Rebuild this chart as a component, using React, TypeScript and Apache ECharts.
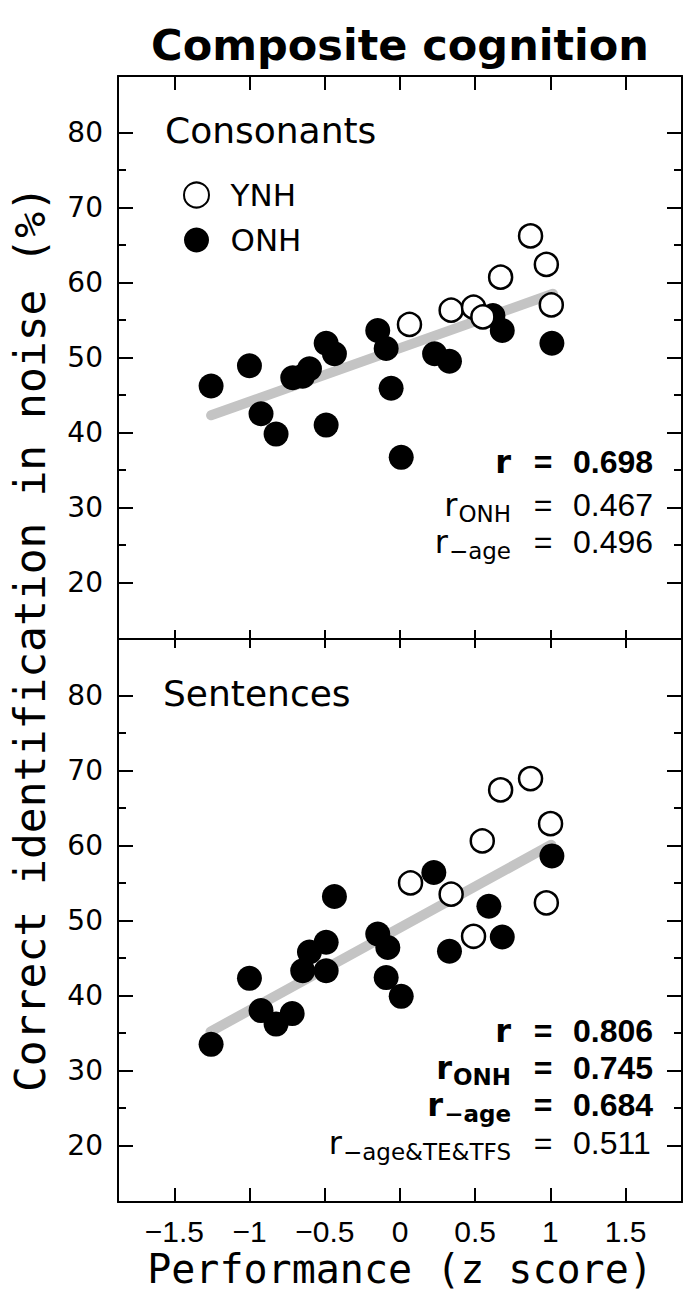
import React, { useEffect, useRef } from 'react';
import * as echarts from 'echarts';

// ---------- data ----------
const X_TICKS = [-1.5, -1, -0.5, 0, 0.5, 1, 1.5];
const Y_MAJOR = [20, 30, 40, 50, 60, 70, 80];
const Y_MINOR = [25, 35, 45, 55, 65, 75];
const X_MIN = -1.875;
const X_MAX = 1.875;
const Y_MIN = 12.5;
const Y_MAX = 87.5;

const PANEL_NAMES = ['Consonants', 'Sentences'];
const GROUP_NAMES = ['YNH', 'ONH'];

const consonantsONH: [number, number][] = [
  [-1.256, 46.2], [-1.001, 48.9], [-0.924, 42.5], [-0.824, 39.8],
  [-0.713, 47.3], [-0.647, 47.5], [-0.602, 48.5], [-0.491, 51.9],
  [-0.436, 50.5], [-0.491, 41.0], [-0.148, 53.6], [-0.092, 51.2],
  [-0.059, 45.9], [0.008, 36.7], [0.23, 50.5], [0.329, 49.5],
  [0.618, 55.6], [0.68, 53.6], [1.01, 51.9],
];
const consonantsYNH: [number, number][] = [
  [0.063, 54.4], [0.34, 56.3], [0.489, 56.7], [0.551, 55.4],
  [0.669, 60.7], [0.868, 66.2], [0.973, 62.4], [1.006, 57.0],
];
const consonantsFit: [number, number][] = [[-1.256, 42.3], [1.017, 58.5]];

const sentencesONH: [number, number][] = [
  [-1.256, 33.5], [-1.001, 42.3], [-0.924, 38.0], [-0.824, 36.2],
  [-0.717, 37.6], [-0.647, 43.3], [-0.602, 45.8], [-0.491, 47.1],
  [-0.491, 43.3], [-0.436, 53.2], [-0.148, 48.2], [-0.081, 46.4],
  [-0.092, 42.4], [0.008, 39.9], [0.225, 56.4], [0.329, 45.9],
  [0.591, 51.9], [0.68, 47.8], [1.01, 58.6],
];
const sentencesYNH: [number, number][] = [
  [0.07, 55.0], [0.34, 53.5], [0.489, 47.9], [0.547, 60.6],
  [0.669, 67.4], [0.868, 68.9], [1.001, 62.9], [0.973, 52.35],
];
const sentencesFit: [number, number][] = [[-1.26, 35.2], [1.006, 60.1]];

type Stat = { sub: string; value: string; bold: boolean };
const consonantsStats: Stat[] = [
  { sub: '', value: '0.698', bold: true },
  { sub: 'ONH', value: '0.467', bold: false },
  { sub: '\u2212age', value: '0.496', bold: false },
];
const sentencesStats: Stat[] = [
  { sub: '', value: '0.806', bold: true },
  { sub: 'ONH', value: '0.745', bold: true },
  { sub: '\u2212age', value: '0.684', bold: true },
  { sub: '\u2212age&TE&TFS', value: '0.511', bold: false },
];

// ---------- layout ----------
const W = 687;
const H = 1299;
const PLOT_LEFT = 118;
const PLOT_W = 564;
const PANEL_TOPS = [76, 639];
const PANEL_H = 563;
const STAT_Y = [[462, 505, 542], [1031, 1068, 1105, 1143]];

const MONO = '"DejaVu Sans Mono", monospace';
const SANS = '"DejaVu Sans", sans-serif';
const LIB = '"Liberation Sans", Arial, sans-serif';
const NARROW = '"Liberation Sans Narrow", "Liberation Sans", sans-serif';

function measure(text: string, font: string): number {
  const c = document.createElement('canvas').getContext('2d');
  if (!c) return text.length * 12;
  c.font = font;
  return c.measureText(text).width;
}

const fmtX = (v: number) => (v < 0 ? '\u2212' + String(Math.abs(v)) : String(v));

function buildOption() {
  const lineStyle = { color: '#000', width: 2 };
  const xAxis: any[] = [];
  const yAxis: any[] = [];
  const grid: any[] = [];
  const series: any[] = [];
  const graphic: any[] = [];

  const panels = [
    { onh: consonantsONH, ynh: consonantsYNH, fit: consonantsFit, stats: consonantsStats },
    { onh: sentencesONH, ynh: sentencesYNH, fit: sentencesFit, stats: sentencesStats },
  ];

  panels.forEach((p, g) => {
    grid.push({ left: PLOT_LEFT, top: PANEL_TOPS[g], width: PLOT_W, height: PANEL_H });
    const isBottom = g === 1;
    const xBase = {
      type: 'value', gridIndex: g, min: X_MIN, max: X_MAX,
      splitLine: { show: false },
      axisLine: { show: true, onZero: false, lineStyle },
    };
    xAxis.push({
      ...xBase, position: 'bottom',
      axisTick: { show: true, inside: true, length: isBottom ? 14 : 9, lineStyle, customValues: X_TICKS },
      axisLabel: isBottom
        ? { show: true, customValues: X_TICKS, formatter: fmtX, color: '#000', fontFamily: NARROW, fontSize: 30, margin: 14 }
        : { show: false },
    });
    xAxis.push({
      ...xBase, position: 'top',
      axisTick: { show: true, inside: true, length: isBottom ? 9 : 14, lineStyle, customValues: X_TICKS },
      axisLabel: { show: false },
    });
    const yBase = {
      type: 'value', gridIndex: g, min: Y_MIN, max: Y_MAX,
      splitLine: { show: false },
    };
    yAxis.push({
      ...yBase, position: 'left',
      axisLine: { show: true, onZero: false, lineStyle },
      axisTick: { show: true, inside: true, length: 15, lineStyle, customValues: Y_MAJOR },
      axisLabel: { show: true, customValues: Y_MAJOR, color: '#000', fontFamily: SANS, fontSize: 28, margin: 15 },
    });
    yAxis.push({
      ...yBase, position: 'left',
      axisLine: { show: false, onZero: false },
      axisTick: { show: true, inside: true, length: 8, lineStyle, customValues: Y_MINOR },
      axisLabel: { show: false },
    });
    yAxis.push({
      ...yBase, position: 'right',
      axisLine: { show: true, onZero: false, lineStyle },
      axisTick: { show: true, inside: true, length: 15, lineStyle, customValues: Y_MAJOR },
      axisLabel: { show: false },
    });
    yAxis.push({
      ...yBase, position: 'right',
      axisLine: { show: false, onZero: false },
      axisTick: { show: true, inside: true, length: 8, lineStyle, customValues: Y_MINOR },
      axisLabel: { show: false },
    });

    const xi = g * 2;
    const yi = g * 4;
    series.push({
      type: 'line', name: 'fit', xAxisIndex: xi, yAxisIndex: yi, data: p.fit,
      symbol: 'none', showSymbol: false, silent: true, z: 1,
      lineStyle: { color: '#c4c4c4', width: 10, cap: 'round' },
    });
    series.push({
      type: 'scatter', name: GROUP_NAMES[1], xAxisIndex: xi, yAxisIndex: yi, data: p.onh,
      symbol: 'circle', symbolSize: 25, silent: true, z: 2,
      itemStyle: { color: '#000', opacity: 1 },
    });
    series.push({
      type: 'scatter', name: GROUP_NAMES[0], xAxisIndex: xi, yAxisIndex: yi, data: p.ynh,
      symbol: 'circle', symbolSize: 23, silent: true, z: 3,
      itemStyle: { color: '#fff', borderColor: '#000', borderWidth: 2.5, opacity: 1 },
    });

    // stats annotations
    p.stats.forEach((s, i) => {
      const yc = STAT_Y[g][i];
      const fw = s.bold ? 'bold' : 'normal';
      const subFont = `${s.bold ? 'bold ' : ''}23px "DejaVu Sans"`;
      const subW = s.sub ? measure(s.sub, subFont) : 0;
      const labelRight = 511;
      if (s.sub) {
        graphic.push({
          type: 'text', x: labelRight, y: yc + 9,
          style: { text: s.sub, fill: '#000', fontFamily: SANS, fontSize: 23, fontWeight: fw, align: 'right', verticalAlign: 'middle' },
        });
      }
      graphic.push({
        type: 'text', x: labelRight - subW - (s.sub ? 1 : 0), y: yc,
        style: { text: 'r', fill: '#000', fontFamily: SANS, fontSize: 32, fontWeight: fw, align: 'right', verticalAlign: 'middle' },
      });
      graphic.push({
        type: 'text', x: 543, y: yc,
        style: { text: '=', fill: '#000', fontFamily: LIB, fontSize: 32, fontWeight: fw, align: 'center', verticalAlign: 'middle' },
      });
      graphic.push({
        type: 'text', x: 573, y: yc,
        style: { text: s.value, fill: '#000', fontFamily: LIB, fontSize: 32, fontWeight: fw, align: 'left', verticalAlign: 'middle' },
      });
    });
  });

  // panel labels
  graphic.push({
    type: 'text', x: 165, y: 130,
    style: { text: PANEL_NAMES[0], fill: '#000', fontFamily: SANS, fontSize: 36, align: 'left', verticalAlign: 'middle' },
  });
  graphic.push({
    type: 'text', x: 163, y: 693,
    style: { text: PANEL_NAMES[1], fill: '#000', fontFamily: SANS, fontSize: 36, align: 'left', verticalAlign: 'middle' },
  });
  // title
  graphic.push({
    type: 'text', x: 400, y: 45,
    style: { text: 'Composite cognition', fill: '#000', fontFamily: SANS, fontSize: 43, fontWeight: 'bold', align: 'center', verticalAlign: 'middle' },
  });
  // x axis name
  graphic.push({
    type: 'text', x: 400, y: 1269,
    style: { text: 'Performance (z score)', fill: '#000', fontFamily: MONO, fontSize: 40, align: 'center', verticalAlign: 'middle' },
  });
  // y axis name
  graphic.push({
    type: 'text', x: 30, y: 639, rotation: Math.PI / 2,
    style: { text: 'Correct identification in noise (%)', fill: '#000', fontFamily: MONO, fontSize: 43, align: 'center', verticalAlign: 'middle' },
  });

  return {
    animation: false,
    backgroundColor: '#fff',
    grid,
    xAxis,
    yAxis,
    series,
    graphic,
    legend: {
      data: GROUP_NAMES,
      orient: 'vertical',
      left: 183,
      top: 179.5,
      padding: 0,
      itemWidth: 58,
      itemHeight: 25,
      itemGap: 14,
      selectedMode: false,
      textStyle: { fontFamily: SANS, fontSize: 31, color: '#000', lineHeight: 31 },
    },
  };
}

export default function App() {
  const ref = useRef<HTMLDivElement>(null);
  useEffect(() => {
    document.body.style.margin = '0';
    if (!ref.current) return;
    const chart = echarts.init(ref.current, undefined, { renderer: 'svg' });
    chart.setOption(buildOption() as any);
    return () => chart.dispose();
  }, []);
  return <div ref={ref} style={{ width: W, height: H }} />;
}
